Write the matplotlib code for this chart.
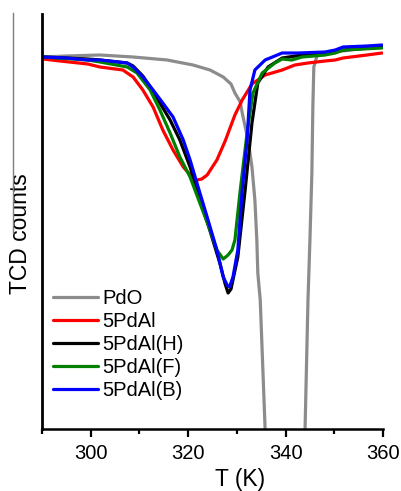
import matplotlib
matplotlib.use("Agg")
import matplotlib.pyplot as plt
from matplotlib.lines import Line2D
from matplotlib.ticker import MultipleLocator

# --- Data (arbitrary TCD units) ---

T_PDO = [290.2, 295.0, 301.9, 308.7, 315.7, 321.0, 324.5, 327.2, 328.8, 329.6,
         330.7, 331.1, 332.3, 333.1, 333.7, 334.1, 334.3, 334.8, 335.8, 336.3,
         343.6, 344.0, 344.6, 345.0, 345.4, 345.6, 345.8, 346.5, 350.0, 355.0,
         359.8]
Y_PDO = [3.72, 3.73, 3.74, 3.72, 3.69, 3.64, 3.59, 3.52, 3.45, 3.36,
         3.27, 3.16, 2.89, 2.62, 2.29, 1.89, 1.56, 1.29, 0.00, -0.50,
         -0.50, 0.00, 1.29, 1.89, 2.56, 3.22, 3.62, 3.74, 3.77, 3.80,
         3.82]

T_AL = [290.2, 293.7, 299.4, 301.9, 306.6, 308.7, 310.7, 312.8, 314.8, 316.9,
        319.0, 321.0, 321.8, 322.8, 323.9, 325.9, 327.6, 329.6, 331.1, 333.1,
        335.8, 339.3, 341.9, 344.6, 348.1, 350.2, 351.8, 356.7, 359.8]
Y_AL = [3.70, 3.68, 3.65, 3.62, 3.59, 3.52, 3.39, 3.22, 2.99, 2.79,
        2.62, 2.51, 2.49, 2.50, 2.54, 2.69, 2.88, 3.14, 3.29, 3.45,
        3.54, 3.59, 3.64, 3.66, 3.68, 3.69, 3.71, 3.74, 3.76]

T_H = [290.2, 299.4, 301.9, 307.5, 308.7, 310.7, 312.8, 314.2, 316.3, 318.3,
       320.4, 322.4, 324.5, 326.5, 327.6, 328.2, 328.8, 330.2, 331.7, 333.1,
       334.3, 336.4, 339.3, 343.4, 348.1, 350.2, 351.8, 356.7, 359.8]
Y_H = [3.72, 3.70, 3.69, 3.66, 3.63, 3.53, 3.38, 3.26, 3.09, 2.89,
       2.62, 2.30, 1.98, 1.66, 1.45, 1.36, 1.40, 1.72, 2.39, 3.06,
       3.46, 3.62, 3.71, 3.74, 3.76, 3.77, 3.79, 3.81, 3.82]

T_F = [290.2, 299.4, 301.9, 307.5, 309.5, 312.2, 314.2, 316.3, 318.3, 320.4,
       322.4, 324.5, 325.9, 327.2, 328.2, 329.0, 329.6, 330.7, 332.1, 333.3,
       335.2, 337.8, 339.3, 341.3, 343.4, 348.1, 350.2, 351.8, 359.8]
Y_F = [3.72, 3.69, 3.67, 3.62, 3.56, 3.39, 3.19, 2.96, 2.72, 2.52,
       2.26, 1.99, 1.79, 1.70, 1.74, 1.79, 1.89, 2.39, 2.96, 3.36,
       3.56, 3.66, 3.70, 3.69, 3.72, 3.74, 3.76, 3.79, 3.81]

T_B = [290.2, 295.0, 299.4, 301.9, 307.5, 308.7, 310.7, 312.8, 314.8, 316.9,
       319.0, 320.4, 321.8, 323.9, 325.9, 327.2, 328.0, 328.5, 329.2, 330.2,
       331.1, 332.1, 332.7, 333.7, 335.8, 339.3, 342.6, 348.1, 350.2, 351.8,
       356.7, 359.8]
Y_B = [3.72, 3.71, 3.69, 3.69, 3.66, 3.62, 3.52, 3.39, 3.26, 3.12,
       2.89, 2.69, 2.46, 2.12, 1.79, 1.52, 1.44, 1.42, 1.52, 1.79,
       2.39, 2.89, 3.39, 3.59, 3.69, 3.76, 3.76, 3.77, 3.79, 3.82,
       3.83, 3.84]

SERIES = [
    ("PdO", T_PDO, Y_PDO, "#8c8c8c"),
    ("5PdAl", T_AL, Y_AL, "#ff0000"),
    ("5PdAl(H)", T_H, Y_H, "#000000"),
    ("5PdAl(F)", T_F, Y_F, "#008000"),
    ("5PdAl(B)", T_B, Y_B, "#0000ff"),
]

plt.rcParams["font.family"] = ["Liberation Sans", "DejaVu Sans"]

fig = plt.figure(figsize=(4.01, 4.91), dpi=100)
ax = fig.add_axes([42 / 401, 1 - 429 / 491, 341 / 401, 415 / 491])

for label, t, y, color in SERIES:
    ax.plot(t, y, color=color, lw=2.3, label=label,
            solid_capstyle="round", solid_joinstyle="round")

ax.set_xlim(290, 360)
ax.set_ylim(0, 4.15)
ax.xaxis.set_major_locator(MultipleLocator(20))
ax.xaxis.set_minor_locator(MultipleLocator(10))
ax.set_yticks([])

for side in ("top", "right"):
    ax.spines[side].set_visible(False)
ax.spines["left"].set_linewidth(2.0)
ax.spines["bottom"].set_linewidth(1.8)

ax.tick_params(axis="x", which="major", direction="out", length=6, width=1.6,
               labelsize=14.5, pad=5)
ax.tick_params(axis="x", which="minor", direction="out", length=3.5, width=1.6)

ax.set_xlabel("T (K)", fontsize=16.5)
ax.xaxis.set_label_coords(0.58, -0.095)
ax.set_ylabel("TCD counts", fontsize=16.5)
ax.yaxis.set_label_coords(-0.03, 0.47)

ax.legend(loc="upper left", bbox_to_anchor=(0.032, 0.338), frameon=False,
          fontsize=14.5, handlelength=2.25, handletextpad=0.2,
          labelspacing=0.2, borderpad=0, borderaxespad=0)

# thin gray rule left of the y label, as in the source image
fig.add_artist(Line2D([12.5 / 401, 12.5 / 401], [1 - 13 / 491, 1 - 233 / 491],
                      color="#7f7f7f", lw=1.0))

fig.savefig("out.png", dpi=100)
